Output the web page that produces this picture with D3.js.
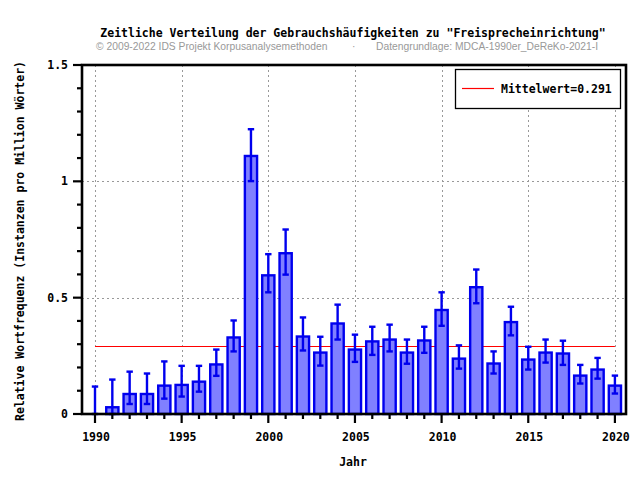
<!DOCTYPE html>
<html><head><meta charset="utf-8">
<script src="https://cdn.jsdelivr.net/npm/d3@7"></script>
<style>body{margin:0;background:#fff}svg{display:block}</style>
</head><body>
<script>
const years = [1990,1991,1992,1993,1994,1995,1996,1997,1998,1999,2000,2001,2002,2003,2004,2005,2006,2007,2008,2009,2010,2011,2012,2013,2014,2015,2016,2017,2018,2019,2020];
const values = [0,0.029,0.086,0.086,0.122,0.125,0.139,0.213,0.329,1.109,0.596,0.691,0.333,0.264,0.389,0.277,0.312,0.320,0.264,0.316,0.447,0.238,0.545,0.217,0.395,0.234,0.264,0.260,0.165,0.191,0.122];
const errLow = [0,0,0.043,0.043,0.066,0.075,0.096,0.164,0.269,1.001,0.523,0.599,0.273,0.208,0.320,0.224,0.254,0.269,0.216,0.263,0.379,0.195,0.476,0.174,0.338,0.191,0.221,0.211,0.131,0.152,0.088];
const errHigh = [0.118,0.148,0.182,0.174,0.226,0.207,0.207,0.277,0.402,1.224,0.687,0.793,0.415,0.332,0.470,0.341,0.375,0.384,0.320,0.375,0.523,0.295,0.621,0.269,0.461,0.289,0.320,0.315,0.211,0.241,0.165];
const meanValue = 0.291;
const yTicks = [0,0.5,1,1.5];
const xTicks = [1990,1995,2000,2005,2010,2015,2020];
const title = 'Zeitliche Verteilung der Gebrauchshäufigkeiten zu "Freisprecheinrichtung"';
const sub1 = '© 2009-2022 IDS Projekt Korpusanalysemethoden';
const sub2 = 'Datengrundlage: MDCA-1990er_DeReKo-2021-I';
const xLabel = 'Jahr';
const yLabel = 'Relative Wortfrequenz (Instanzen pro Million Wörter)';
const legendLabel = 'Mittelwert=0.291';

const W = 640, H = 480;
const L = 82, R = 626, T = 65, B = 414;
const mono = '"DejaVu Sans Mono", "Liberation Mono", monospace';
const blue = '#0000ee';

const svg = d3.select('body').append('svg').attr('width', W).attr('height', H);
const x = d3.scaleLinear().domain([1989.25, 2020.64]).range([L, R]);
const y = d3.scaleLinear().domain([0, 1.5]).range([B, T]);

// grid
const grid = svg.append('g').attr('stroke', '#999').attr('stroke-width', 1).attr('stroke-dasharray', '2,3');
grid.selectAll('.gx').data(xTicks).join('line')
  .attr('x1', d => Math.round(x(d)) + 0.5).attr('x2', d => Math.round(x(d)) + 0.5)
  .attr('y1', T).attr('y2', B);
grid.selectAll('.gy').data([0.5, 1]).join('line')
  .attr('x1', L).attr('x2', R)
  .attr('y1', d => Math.round(y(d)) + 0.5).attr('y2', d => Math.round(y(d)) + 0.5);

// mean line
svg.append('line').attr('x1', x(1990)).attr('x2', x(2020))
  .attr('y1', Math.round(y(meanValue)) + 0.5).attr('y2', Math.round(y(meanValue)) + 0.5)
  .attr('stroke', '#ff0000').attr('stroke-width', 1.2);

// bars
const bw = 12.2;
svg.append('g').selectAll('rect').data(years.map((yr, i) => ({yr, v: values[i]})).filter(d => d.v > 0)).join('rect')
  .attr('x', d => x(d.yr) - bw / 2).attr('width', bw)
  .attr('y', d => y(d.v)).attr('height', d => B - y(d.v))
  .attr('fill', '#8080ff').attr('stroke', blue).attr('stroke-width', 2.4);

// error bars
const eb = svg.append('g').attr('stroke', blue).attr('stroke-width', 2.4);
years.forEach((yr, i) => {
  const cx = x(yr);
  eb.append('line').attr('x1', cx).attr('x2', cx).attr('y1', y(errLow[i])).attr('y2', y(errHigh[i]));
  eb.append('line').attr('x1', cx - 3.2).attr('x2', cx + 3.2).attr('y1', y(errHigh[i])).attr('y2', y(errHigh[i]));
  eb.append('line').attr('x1', cx - 3.2).attr('x2', cx + 3.2).attr('y1', y(errLow[i])).attr('y2', y(errLow[i]));
});

// frame
svg.append('rect').attr('x', L).attr('y', T).attr('width', R - L).attr('height', B - T)
  .attr('fill', 'none').attr('stroke', '#000').attr('stroke-width', 2.6);

// x ticks
const xMinor = d3.range(1990, 2021);
svg.append('g').selectAll('line').data(xMinor).join('line')
  .attr('x1', d => x(d)).attr('x2', d => x(d))
  .attr('y1', B).attr('y2', d => B + (d % 5 === 0 ? 9 : 5))
  .attr('stroke', '#000').attr('stroke-width', 2.2);
svg.append('g').selectAll('text').data(xTicks).join('text')
  .attr('x', d => x(d) + 1).attr('y', 441).attr('text-anchor', 'middle')
  .attr('font-family', mono).attr('font-weight', 'bold').attr('font-size', 11.5)
  .text(d => d);

// y ticks
const yMinor = d3.range(0, 16).map(d => d / 10);
svg.append('g').selectAll('line').data(yMinor).join('line')
  .attr('x1', L).attr('x2', (d, i) => L - (i % 5 === 0 ? 9 : 5))
  .attr('y1', d => y(d)).attr('y2', d => y(d))
  .attr('stroke', '#000').attr('stroke-width', 2.2);
svg.append('g').selectAll('text').data(yTicks).join('text')
  .attr('x', 68).attr('y', d => y(d) + 4).attr('text-anchor', 'end')
  .attr('font-family', mono).attr('font-weight', 'bold').attr('font-size', 11.5)
  .text(d => d);

// axis labels
svg.append('text').attr('x', 353).attr('y', 466).attr('text-anchor', 'middle')
  .attr('font-family', mono).attr('font-weight', 'bold').attr('font-size', 11.5).text(xLabel);
svg.append('text').attr('transform', 'translate(24,241) rotate(-90)').attr('text-anchor', 'middle')
  .attr('font-family', mono).attr('font-weight', 'bold').attr('font-size', 11.5).text(yLabel);

// title
svg.append('text').attr('x', 353).attr('y', 37).attr('text-anchor', 'middle')
  .attr('font-family', mono).attr('font-weight', 'bold').attr('font-size', 11.5).text(title);
const subFont = '"Liberation Sans", Arial, sans-serif';
svg.append('text').attr('x', 96).attr('y', 50).attr('font-family', subFont).attr('font-size', 10.3)
  .attr('fill', '#999').text(sub1);
svg.append('text').attr('x', 352).attr('y', 50).attr('font-family', subFont).attr('font-size', 10.3)
  .attr('fill', '#999').text('·');
svg.append('text').attr('x', 376).attr('y', 50).attr('font-family', subFont).attr('font-size', 10.3)
  .attr('fill', '#999').text(sub2);

// legend
const lg = svg.append('g');
lg.append('rect').attr('x', 455.5).attr('y', 69.5).attr('width', 165).attr('height', 39)
  .attr('fill', '#fff').attr('stroke', '#000').attr('stroke-width', 1.3);
lg.append('line').attr('x1', 462).attr('x2', 494).attr('y1', 88.5).attr('y2', 88.5)
  .attr('stroke', '#ff0000').attr('stroke-width', 1.2);
lg.append('text').attr('x', 501).attr('y', 92.5)
  .attr('font-family', mono).attr('font-weight', 'bold').attr('font-size', 11.5).text(legendLabel);
</script>
</body></html>
